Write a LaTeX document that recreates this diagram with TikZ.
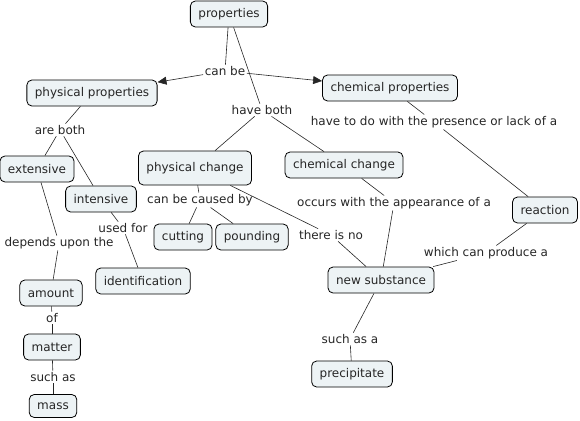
\documentclass[tikz,border=0pt]{standalone}
\usepackage{fontspec}
\setmainfont{DejaVu Sans}
\usetikzlibrary{arrows.meta}
\definecolor{boxfill}{RGB}{237,243,245}
\begin{document}
\begin{tikzpicture}[x=1pt,y=-1pt,
 concept/.style={draw=black, line width=0.8pt, rounded corners=5pt, fill=boxfill, inner xsep=8pt, minimum height=26pt, font=\fontsize{12}{14}\selectfont, text=black!85},
 lab/.style={inner sep=1.5pt, font=\fontsize{12}{14}\selectfont, text=black!85},
 link/.style={draw=black!85, line width=0.6pt},
 arr/.style={link, -{Triangle[length=9pt,width=8pt]}}]
\useasboundingbox (0,0) rectangle (580,420);
\node[concept] (prop) at (229,14) {properties};
\node[concept] (pp) at (92,93) {physical properties};
\node[concept] (cp) at (390,88) {chemical properties};
\node[lab] (canbe) at (225,71) {can be};
\node[lab] (haveboth) at (262,110) {have both};
\node[lab] (areboth) at (60,130) {are both};
\node[concept] (ext) at (37,169) {extensive};
\node[concept] (int) at (101,199) {intensive};
\node[concept, minimum height=34pt] (pc) at (195,168) {physical change};
\node[concept] (cc) at (344,165) {chemical change};
\node[lab] (havedo) at (434,122) {have to do with the presence or lack of a};
\node[concept] (react) at (545,210) {reaction};
\node[lab] (occurs) at (394,203) {occurs with the appearance of a};
\node[lab] (thereis) at (331,235) {there is no};
\node[lab] (produce) at (486,253) {which can produce a};
\node[concept] (ns) at (381,280) {new substance};
\node[lab] (suchasa) at (350,339) {such as a};
\node[concept] (prec) at (352,374) {precipitate};
\node[lab] (caused) at (200,200) {can be caused by};
\node[concept] (cut) at (183,237) {cutting};
\node[concept] (pound) at (252,237) {pounding};
\node[lab] (usedfor) at (123,228) {used for};
\node[concept] (ident) at (143,281) {identification};
\node[lab] (depends) at (59,243) {depends upon the};
\node[concept] (amount) at (51,293) {amount};
\node[lab] (of) at (52,318) {of};
\node[concept] (matter) at (52,347) {matter};
\node[lab] (suchas) at (53,377) {such as};
\node[concept, minimum height=23pt] (mass) at (53,406) {mass};
% connectors
\draw[link] (prop) -- (canbe);
\draw[arr] (canbe) -- (pp);
\draw[arr] (canbe) -- (cp);
\draw[link] (prop) -- (haveboth);
\draw[link] (haveboth) -- (pc);
\draw[link] (haveboth) -- (cc);
\draw[link] (pp) -- (areboth);
\draw[link] (areboth) -- (ext);
\draw[link] (areboth) -- (int);
\draw[link] (ext) -- (depends);
\draw[link] (depends) -- (amount);
\draw[link] (amount) -- (of);
\draw[link] (of) -- (matter);
\draw[link] (matter) -- (suchas);
\draw[link] (suchas) -- (mass);
\draw[link] (int) -- (usedfor);
\draw[link] (usedfor) -- (ident);
\draw[link] (pc) -- (caused);
\draw[link] (caused) -- (cut);
\draw[link] (caused) -- (pound);
\draw[link] (pc) -- (thereis);
\draw[link] (thereis) -- (ns);
\draw[link] (cc) -- (occurs);
\draw[link] (occurs) -- (ns);
\draw[link] (cp) -- (havedo);
\draw[link] (havedo) -- (react);
\draw[link] (react) -- (produce);
\draw[link] (produce) -- (ns);
\draw[link] (ns) -- (suchasa);
\draw[link] (suchasa) -- (prec);
\end{tikzpicture}
\end{document}
